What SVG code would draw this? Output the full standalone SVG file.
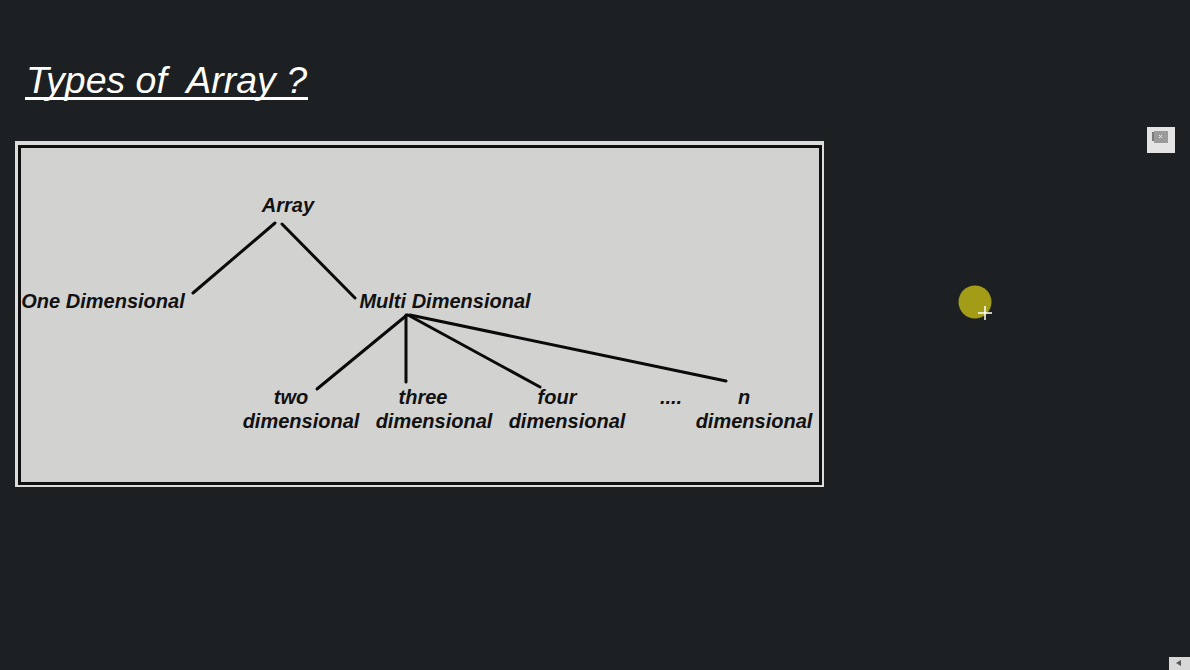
<svg xmlns="http://www.w3.org/2000/svg" width="1190" height="670" viewBox="0 0 1190 670">
<style>
.lbl{font-family:"Liberation Sans",Arial,sans-serif;font-size:20px;font-weight:bold;font-style:italic;fill:#111;text-anchor:middle}
.conn line{stroke:#0a0a0a;stroke-width:3;stroke-linecap:round}
</style>
<rect x="0" y="0" width="1190" height="670" fill="#1d2022"/>
<g id="title">
<text x="26" y="93" xml:space="preserve" font-family="Liberation Sans, Arial, sans-serif" font-size="36" font-style="italic" fill="#ffffff" textLength="281" lengthAdjust="spacingAndGlyphs">Types of  Array ?</text>
<rect x="25" y="97" width="283" height="3" fill="#ffffff"/>
</g>
<g id="panel">
<rect x="15" y="141" width="809" height="346" fill="#dcdcda"/>
<rect x="19.5" y="146.5" width="801" height="337" fill="#d2d2d0" stroke="#101010" stroke-width="3"/>
</g>
<g class="conn" id="connectors">
<line x1="275" y1="223" x2="193" y2="293"/>
<line x1="282" y1="224" x2="355" y2="298"/>
<line x1="407" y1="315" x2="317" y2="389"/>
<line x1="406" y1="315" x2="406" y2="382"/>
<line x1="408" y1="315" x2="540" y2="387"/>
<line x1="410" y1="315" x2="726" y2="381"/>
</g>
<g id="n-array"><text class="lbl" x="288" y="212">Array</text></g>
<g id="n-one"><text class="lbl" x="103" y="308">One Dimensional</text></g>
<g id="n-multi"><text class="lbl" x="445" y="308">Multi Dimensional</text></g>
<g id="n-two"><text class="lbl" x="291" y="404">two</text><text class="lbl" x="301" y="428">dimensional</text></g>
<g id="n-three"><text class="lbl" x="423" y="404">three</text><text class="lbl" x="434" y="428">dimensional</text></g>
<g id="n-four"><text class="lbl" x="557" y="404">four</text><text class="lbl" x="567" y="428">dimensional</text></g>
<g id="n-dots"><text class="lbl" x="671" y="404">....</text></g>
<g id="n-n"><text class="lbl" x="744" y="404">n</text><text class="lbl" x="754" y="428">dimensional</text></g>
<g id="cursor">
<circle cx="975" cy="302" r="16.5" fill="#a39c16"/>
<path d="M978 313 H992 M985 306 V320" stroke="#ffffff" stroke-width="1.5"/>
</g>
<g id="icon">
<rect x="1147" y="127" width="28" height="26" fill="#e4e4e4"/>
<rect x="1154" y="131" width="14" height="12" fill="#9a9a9a"/>
<rect x="1152" y="132" width="2" height="9" fill="#7a7a7a"/>
<path d="M1159 135 L1162 138 M1162 135 L1159 138" stroke="#eeeeee" stroke-width="1"/>
</g>
<g id="icon2">
<rect x="1169" y="657" width="21" height="13" fill="#d8d8d8"/>
<path d="M1176 663 L1181 660 L1181 666 Z" fill="#555"/>
</g>
</svg>
